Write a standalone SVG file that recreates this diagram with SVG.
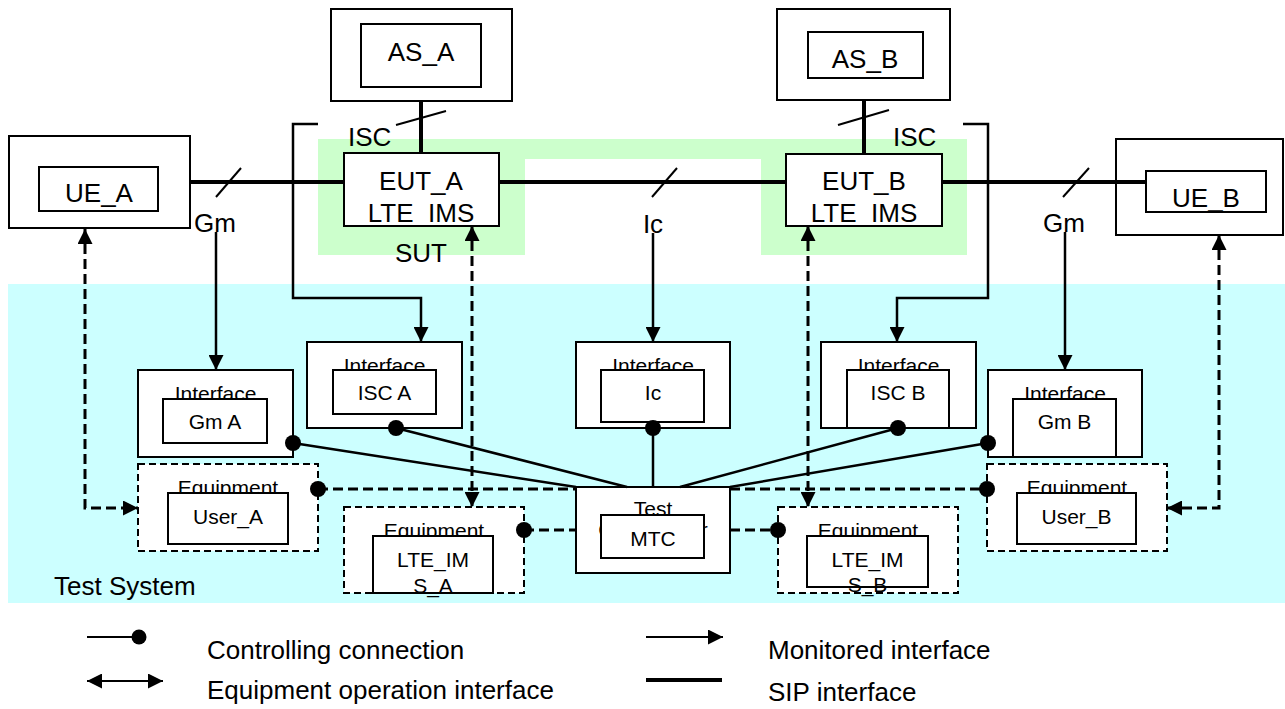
<svg xmlns="http://www.w3.org/2000/svg" width="1285" height="709" viewBox="0 0 1285 709">
<defs>
<style>
text{font-family:"Liberation Sans",Arial,sans-serif;fill:#000}
.big{font-size:26px}
.sm{font-size:21px}
.mid{text-anchor:middle}
.box{fill:#fff;stroke:#000;stroke-width:2}
.dbox{fill:#fff;stroke:#000;stroke-width:2;stroke-dasharray:7 4}
.sip{stroke:#000;stroke-width:4;fill:none}
.thin{stroke:#000;stroke-width:2;fill:none}
.mon{stroke:#000;stroke-width:2.5;fill:none}
.ctl{stroke:#000;stroke-width:2.5;fill:none}
.eq{stroke:#000;stroke-width:3;fill:none;stroke-dasharray:10 5}
.dot{fill:#000}
</style>
<marker id="arr" markerUnits="userSpaceOnUse" markerWidth="15" markerHeight="15" refX="15" refY="7.5" orient="auto">
<path d="M0,0 L15,7.5 L0,15 Z" fill="#000"/>
</marker>
<marker id="arrs" markerUnits="userSpaceOnUse" markerWidth="15" markerHeight="15" refX="0" refY="7.5" orient="auto">
<path d="M15,0 L0,7.5 L15,15 Z" fill="#000"/>
</marker>
</defs>
<rect width="1285" height="709" fill="#fff"/>
<g id="background">
<rect x="8" y="284" width="1277" height="319" fill="#ccffff"/>
<path d="M318,139 H967 V255 H761 V159 H525 V255 H318 Z" fill="#ccffcc"/>
<text class="big" x="54" y="595">Test System</text>
<text class="big mid" x="421" y="262">SUT</text>
</g>
<g id="AS_A">
<rect class="box" x="331" y="9" width="181" height="92"/>
<rect class="box" x="361" y="24" width="120" height="63"/>
<text class="big mid" x="421" y="61">AS_A</text>
</g>
<g id="AS_B">
<rect class="box" x="777" y="9" width="173" height="91"/>
<rect class="box" x="808" y="32" width="115" height="46"/>
<text class="big mid" x="865" y="68">AS_B</text>
</g>
<g id="UE_A">
<rect class="box" x="9" y="136" width="181" height="92"/>
<rect class="box" x="39" y="167" width="119" height="44"/>
<text class="big mid" x="99" y="202">UE_A</text>
</g>
<g id="UE_B">
<rect class="box" x="1116" y="139" width="167" height="96"/>
<rect class="box" x="1146" y="171" width="120" height="41"/>
<text class="big mid" x="1206" y="207">UE_B</text>
</g>
<g id="EUT_A">
<rect class="box" x="344" y="153" width="155" height="73"/>
<text class="big mid" x="421" y="190">EUT_A</text>
<text class="big mid" x="421" y="222">LTE_IMS</text>
</g>
<g id="EUT_B">
<rect class="box" x="786" y="154" width="156" height="72"/>
<text class="big mid" x="864" y="190">EUT_B</text>
<text class="big mid" x="864" y="222">LTE_IMS</text>
</g>
<g id="IF_GmA">
<rect class="box" x="138" y="370" width="155" height="87"/>
<text class="sm mid" x="215.5" y="401">Interface</text>
<rect class="box" x="163" y="399" width="104" height="44"/>
<text class="sm mid" x="215" y="429">Gm A</text>
</g>
<g id="IF_ISCA">
<rect class="box" x="307" y="342" width="155" height="86"/>
<text class="sm mid" x="384.5" y="373">Interface</text>
<rect class="box" x="333" y="370" width="103" height="44"/>
<text class="sm mid" x="384.5" y="400">ISC A</text>
</g>
<g id="IF_Ic">
<rect class="box" x="576" y="342" width="154" height="86"/>
<text class="sm mid" x="653" y="373">Interface</text>
<rect class="box" x="601" y="370" width="103" height="52"/>
<text class="sm mid" x="653" y="400">Ic</text>
</g>
<g id="IF_ISCB">
<rect class="box" x="821" y="342" width="155" height="86"/>
<text class="sm mid" x="898.5" y="373">Interface</text>
<rect class="box" x="847" y="370" width="102" height="58"/>
<text class="sm mid" x="898" y="400">ISC B</text>
</g>
<g id="IF_GmB">
<rect class="box" x="988" y="370" width="154" height="87"/>
<text class="sm mid" x="1065" y="401">Interface</text>
<rect class="box" x="1013" y="399" width="103" height="58"/>
<text class="sm mid" x="1064.5" y="429">Gm B</text>
</g>
<g id="EQ_UserA">
<rect class="dbox" x="138" y="464" width="180" height="87"/>
<text class="sm mid" x="228" y="495">Equipment</text>
<rect class="box" x="168" y="493" width="120" height="51"/>
<text class="sm mid" x="228" y="524">User_A</text>
</g>
<g id="EQ_UserB">
<rect class="dbox" x="987" y="464" width="180" height="87"/>
<text class="sm mid" x="1077" y="495">Equipment</text>
<rect class="box" x="1017" y="493" width="119" height="51"/>
<text class="sm mid" x="1076.5" y="524">User_B</text>
</g>
<g id="EQ_LTE_IMS_A">
<rect class="dbox" x="344" y="507" width="180" height="86"/>
<text class="sm mid" x="434" y="538">Equipment</text>
<rect class="box" x="373" y="536" width="120" height="57"/>
<text class="sm mid" x="433" y="567">LTE_IM</text>
<text class="sm mid" x="433" y="593">S_A</text>
</g>
<g id="EQ_LTE_IMS_B">
<rect class="dbox" x="778" y="507" width="180" height="86"/>
<text class="sm mid" x="868" y="538">Equipment</text>
<rect class="box" x="807" y="536" width="121" height="51"/>
<text class="sm mid" x="867.5" y="567">LTE_IM</text>
<text class="sm mid" x="867.5" y="592">S_B</text>
</g>
<g id="TestCoordinator">
<rect class="box" x="576" y="487" width="154" height="86"/>
<text class="sm mid" x="653" y="516">Test</text>
<text class="sm mid" x="653" y="537">Coordinator</text>
<rect class="box" x="601" y="515" width="103" height="43"/>
<text class="sm mid" x="653" y="546">MTC</text>
</g>
<g id="connectors">
<line class="sip" x1="190" y1="182" x2="344" y2="182"/>
<line class="sip" x1="499" y1="182" x2="786" y2="182"/>
<line class="sip" x1="942" y1="182" x2="1146" y2="182"/>
<line class="sip" x1="421" y1="101" x2="421" y2="153"/>
<line class="sip" x1="864" y1="100" x2="864" y2="154"/>
<line class="thin" x1="216" y1="197" x2="241" y2="168"/>
<line class="thin" x1="652" y1="197" x2="677" y2="168"/>
<line class="thin" x1="1063" y1="197" x2="1089" y2="168"/>
<line class="thin" x1="396" y1="125" x2="446" y2="111"/>
<line class="thin" x1="838" y1="125" x2="889" y2="110"/>
<line class="mon" x1="216" y1="232" x2="216" y2="370" marker-end="url(#arr)"/>
<polyline class="mon" points="318,124 293,124 293,298 421,298 421,342" marker-end="url(#arr)"/>
<line class="mon" x1="653" y1="233" x2="653" y2="342" marker-end="url(#arr)"/>
<polyline class="mon" points="963,124 988,124 988,298 897,298 897,342" marker-end="url(#arr)"/>
<line class="mon" x1="1065" y1="232" x2="1065" y2="370" marker-end="url(#arr)"/>
<polyline class="eq" points="85,229 85,508 138,508" marker-start="url(#arrs)" marker-end="url(#arr)"/>
<line class="eq" x1="472" y1="226" x2="472" y2="507" marker-start="url(#arrs)" marker-end="url(#arr)"/>
<line class="eq" x1="808" y1="226" x2="808" y2="507" marker-start="url(#arrs)" marker-end="url(#arr)"/>
<polyline class="eq" points="1219,235 1219,508 1167,508" marker-start="url(#arrs)" marker-end="url(#arr)"/>
<line class="ctl" x1="293" y1="443" x2="576" y2="487"/>
<line class="ctl" x1="396" y1="428" x2="627" y2="487"/>
<line class="ctl" x1="653" y1="428" x2="653" y2="487"/>
<line class="ctl" x1="898" y1="428" x2="680" y2="487"/>
<line class="ctl" x1="988" y1="443" x2="730" y2="487"/>
<line class="eq" x1="318" y1="489" x2="576" y2="489"/>
<line class="eq" x1="730" y1="489" x2="987" y2="489"/>
<line class="eq" x1="524" y1="530" x2="576" y2="530"/>
<line class="eq" x1="730" y1="530" x2="778" y2="530"/>
<circle class="dot" cx="293" cy="443" r="8"/>
<circle class="dot" cx="396" cy="428" r="8"/>
<circle class="dot" cx="653" cy="428" r="8"/>
<circle class="dot" cx="898" cy="428" r="8"/>
<circle class="dot" cx="988" cy="443" r="8"/>
<circle class="dot" cx="318" cy="489" r="8"/>
<circle class="dot" cx="987" cy="489" r="8"/>
<circle class="dot" cx="524" cy="530" r="8"/>
<circle class="dot" cx="778" cy="530" r="8"/>
</g>
<g id="labels">
<text class="big" x="348" y="146">ISC</text>
<text class="big" x="893" y="146">ISC</text>
<text class="big mid" x="215" y="232">Gm</text>
<text class="big mid" x="1064" y="232">Gm</text>
<text class="big mid" x="653" y="233">Ic</text>
</g>
<g id="legend">
<line class="thin" x1="87" y1="637" x2="133" y2="637"/>
<circle class="dot" cx="139" cy="637" r="7.5"/>
<text class="big" x="207" y="659">Controlling connection</text>
<line class="thin" x1="87" y1="681" x2="163" y2="681" marker-start="url(#arrs)" marker-end="url(#arr)"/>
<text class="big" x="207" y="699">Equipment operation interface</text>
<line class="thin" x1="646" y1="637" x2="723" y2="637" marker-end="url(#arr)"/>
<text class="big" x="768" y="659">Monitored interface</text>
<line class="sip" x1="646" y1="680" x2="722" y2="680"/>
<text class="big" x="768" y="701">SIP interface</text>
</g>
</svg>
